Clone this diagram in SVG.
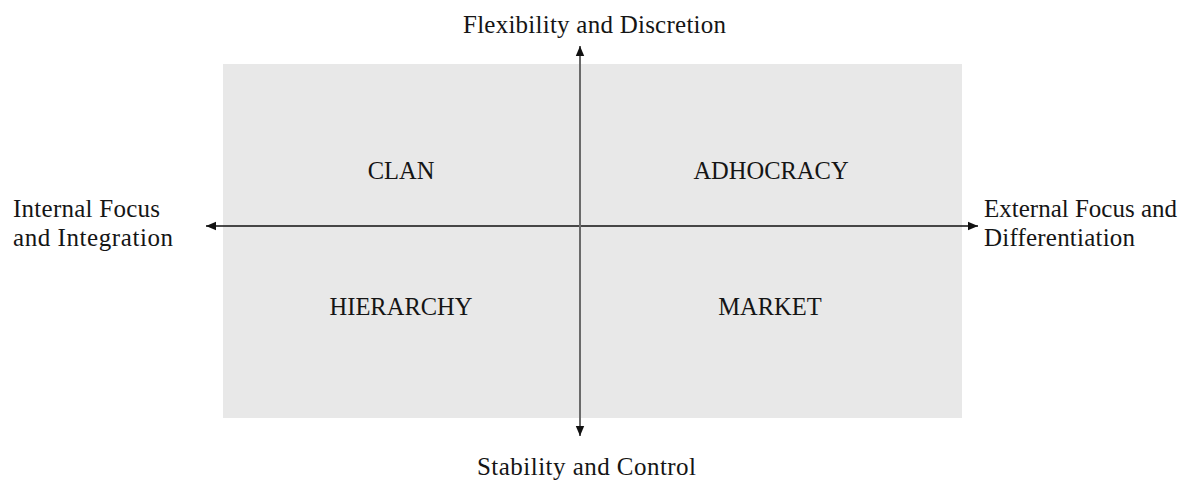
<svg xmlns="http://www.w3.org/2000/svg" width="1184" height="481" viewBox="0 0 1184 481">
  <style>
    .lbl { font-family: "Palatino Linotype", "Book Antiqua", Palatino, "Liberation Serif", serif; fill: #151515; }
    .axis { font-size: 25px; }
    .quad { font-size: 24.5px; text-anchor: middle; }
    .hline { stroke: #111; stroke-width: 1.4; fill: none; }
    .vline { stroke: #6a6a6a; stroke-width: 2; fill: none; }
  </style>
  <defs>
    <marker id="tipH" markerUnits="userSpaceOnUse" markerWidth="12" markerHeight="10" refX="10" refY="5" orient="auto-start-reverse">
      <path d="M0,0.8 L10,5 L0,9.2 Z" fill="#111"/>
    </marker>
    <marker id="tipV" markerUnits="userSpaceOnUse" markerWidth="12" markerHeight="10" refX="10" refY="5" orient="auto-start-reverse">
      <path d="M0,0.8 L10,5 L0,9.2 Z" fill="#111"/>
    </marker>
  </defs>

  <rect width="1184" height="481" fill="#ffffff"/>

  <!-- quadrant field -->
  <rect id="field" x="223" y="64" width="739" height="354" fill="#e8e8e8"/>

  <!-- axes -->
  <g id="connectors">
    <line class="hline" x1="206" y1="226" x2="978" y2="226" marker-start="url(#tipH)" marker-end="url(#tipH)"/>
    <line class="vline" x1="580" y1="46" x2="580" y2="436" marker-start="url(#tipV)" marker-end="url(#tipV)"/>
  </g>

  <!-- quadrants -->
  <g id="clan"><text class="lbl quad" x="401" y="179">CLAN</text></g>
  <g id="adhocracy"><text class="lbl quad" x="771" y="179">ADHOCRACY</text></g>
  <g id="hierarchy"><text class="lbl quad" x="401" y="315">HIERARCHY</text></g>
  <g id="market"><text class="lbl quad" x="770" y="315">MARKET</text></g>

  <!-- axis poles -->
  <g id="top-pole"><text class="lbl axis" x="463" y="33" textLength="263" lengthAdjust="spacing">Flexibility and Discretion</text></g>
  <g id="bottom-pole"><text class="lbl axis" x="477" y="475" textLength="219" lengthAdjust="spacing">Stability and Control</text></g>
  <g id="left-pole">
    <text class="lbl axis" x="13" y="217" textLength="147" lengthAdjust="spacing">Internal Focus</text>
    <text class="lbl axis" x="13" y="246" textLength="160" lengthAdjust="spacing">and Integration</text>
  </g>
  <g id="right-pole">
    <text class="lbl axis" x="984" y="217" textLength="193" lengthAdjust="spacing">External Focus and</text>
    <text class="lbl axis" x="984" y="246" textLength="151" lengthAdjust="spacing">Differentiation</text>
  </g>
</svg>
